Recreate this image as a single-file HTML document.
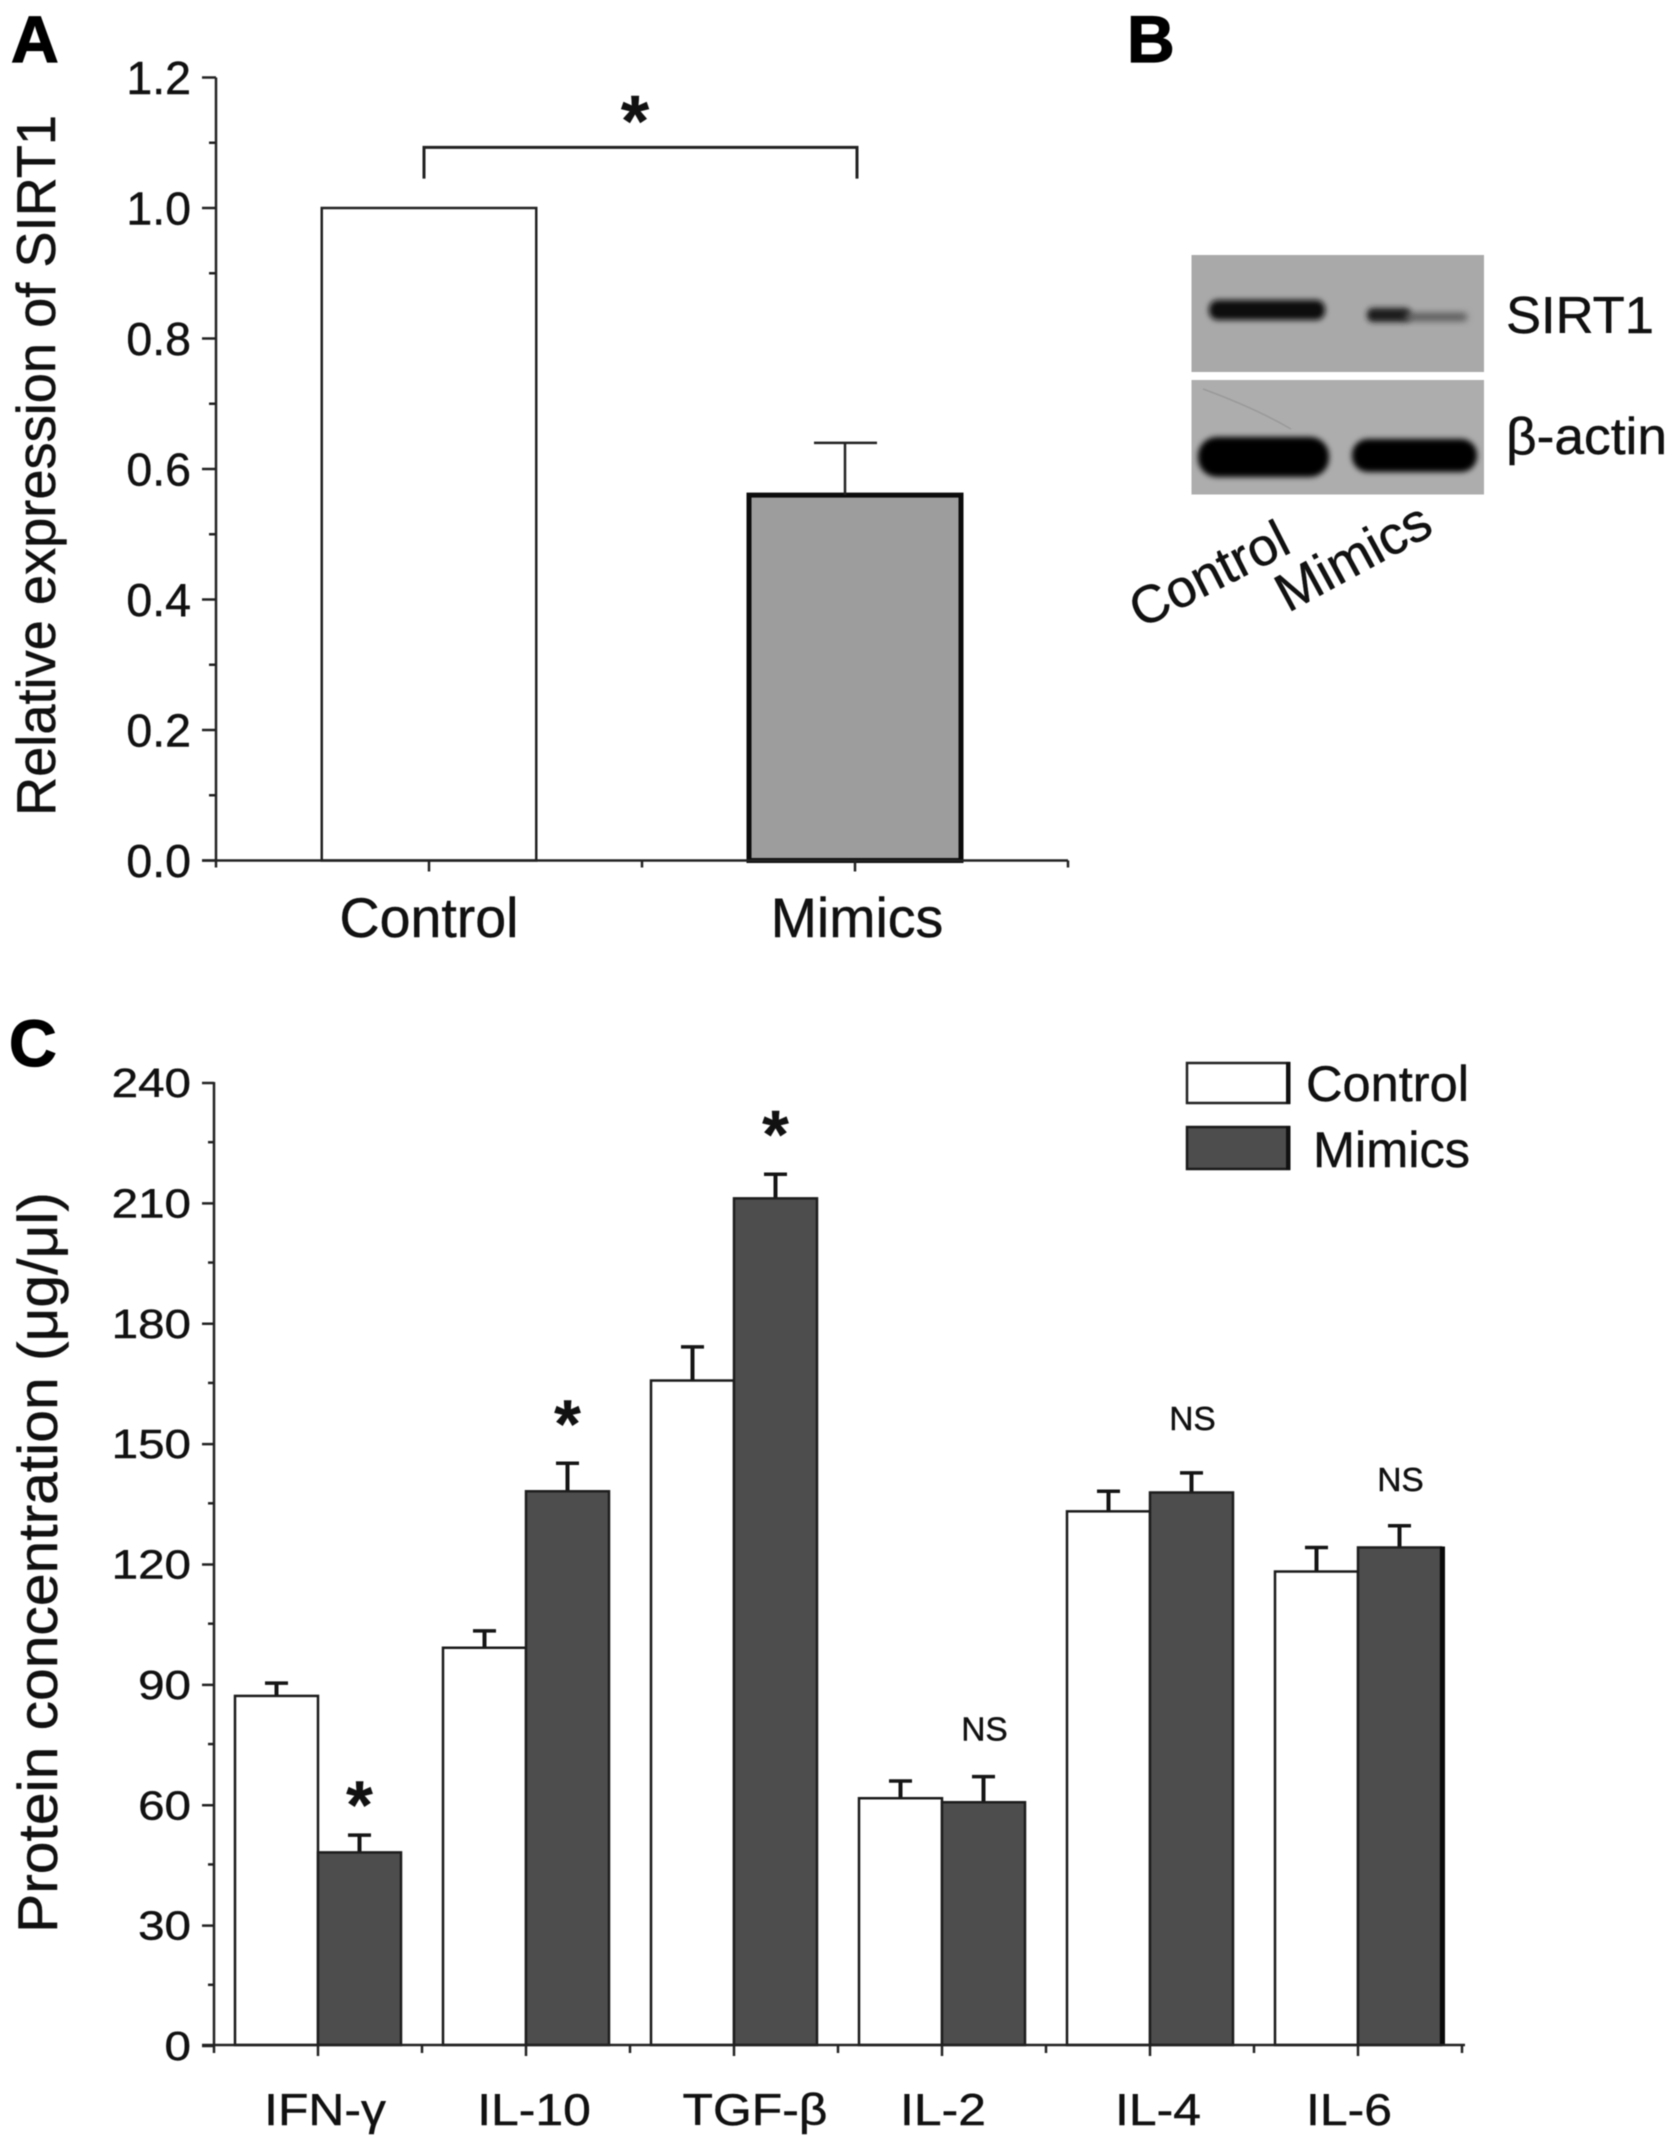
<!DOCTYPE html>
<html lang="en">
<head>
<meta charset="utf-8">
<title>SIRT1 expression and protein concentration figure</title>
<style>
html,body{margin:0;padding:0;background:#fff;}
#figure{display:block;filter:blur(0.55px);}
text{font-family:"Liberation Sans",Arial,sans-serif;fill:#111;stroke:#111;stroke-width:0.45px;}
.panel-letter{font-weight:bold;font-size:66px;stroke:#000;stroke-width:1.2px;fill:#000;}
</style>
</head>
<body>
<svg id="figure" xmlns="http://www.w3.org/2000/svg" width="1677" height="2148" viewBox="0 0 1677 2148">
  <defs>
    <filter id="blurBand" x="-30%" y="-60%" width="160%" height="220%"><feGaussianBlur stdDeviation="3"/></filter>
    <filter id="blurFaint" x="-30%" y="-80%" width="160%" height="260%"><feGaussianBlur stdDeviation="3.4"/></filter>
  </defs>
  <rect x="0" y="0" width="1677" height="2148" fill="#fff"/>

  <text class="panel-letter" x="11" y="62">A</text>
  <text class="panel-letter" x="1127" y="62">B</text>
  <text class="panel-letter" x="9" y="1066">C</text>

  <g id="panelA"></g>

  <g id="panelB">
    <rect x="1191.5" y="255" width="292.5" height="117" fill="#a9a9a9"/>
    <rect x="1209" y="300" width="116" height="20" rx="9" fill="#0c0c0c" filter="url(#blurBand)"/>
    <rect x="1367" y="308" width="44" height="14" rx="6" fill="#1c1c1c" filter="url(#blurBand)"/>
    <rect x="1405" y="313" width="62" height="8" rx="3" fill="#5a5a5a" filter="url(#blurFaint)"/>
    <rect x="1191.5" y="380" width="292.5" height="114.5" fill="#adadad"/>
    <path d="M1203 389 Q1255 408 1291 429" fill="none" stroke="#9a9a9a" stroke-width="1.5"/>
    <rect x="1198" y="437" width="131" height="40" rx="19" fill="#050505" filter="url(#blurBand)"/>
    <rect x="1352" y="439" width="125" height="33" rx="16" fill="#050505" filter="url(#blurBand)"/>
    <text x="1506" y="333" font-size="52" textLength="148" lengthAdjust="spacingAndGlyphs">SIRT1</text>
    <text x="1506" y="454" font-size="52" textLength="161" lengthAdjust="spacingAndGlyphs">β-actin</text>
    <text transform="translate(1141 629) rotate(-27)" font-size="53">Control</text>
    <text transform="translate(1288 613) rotate(-28.5)" font-size="54">Mimics</text>
  </g>

  <g id="panelC"></g>

  <g id="legendC">
    <rect x="1187" y="1063" width="102" height="40" fill="#fff" stroke="#222" stroke-width="2.5"/>
    <rect x="1286" y="1062" width="4.5" height="42" fill="#111"/>
    <text x="1306" y="1101" font-size="50" textLength="163" lengthAdjust="spacingAndGlyphs">Control</text>
    <rect x="1187" y="1127" width="102" height="42" fill="#4d4d4d" stroke="#1a1a1a" stroke-width="2.5"/>
    <rect x="1286" y="1126" width="4.5" height="44" fill="#111"/>
    <text x="1313" y="1167" font-size="50" textLength="157" lengthAdjust="spacingAndGlyphs">Mimics</text>
  </g>
</svg>

<script>
/* ---------- Panel A data ---------- */
const aCategories = ['Control', 'Mimics'];
const aValues = [1.0, 0.56];
const aErrorTops = [null, 0.64];
const aTickLabels = ['0.0', '0.2', '0.4', '0.6', '0.8', '1.0', '1.2'];
const aYAxisTitle = 'Relative expression of SIRT1';

/* ---------- Panel C data ---------- */
const cCategories = ['IFN-γ', 'IL-10', 'TGF-β', 'IL-2', 'IL-4', 'IL-6'];
const cControl = [87, 99, 165.6, 61.5, 133, 118];
const cMimics = [48, 138, 211, 60.5, 137.7, 124];
const cControlErrorTops = [90.2, 103.2, 174, 65.8, 138, 124];
const cMimicsErrorTops = [52.3, 145, 217, 66.9, 142.6, 129.4];
const cSignificance = ['*', '*', '*', 'NS', 'NS', 'NS'];
const cTickLabels = ['0', '30', '60', '90', '120', '150', '180', '210', '240'];
const cYAxisTitle = 'Protein concentration (μg/μl)';

const NS = 'http://www.w3.org/2000/svg';
function make(tag, parent, attrs, text) {
  const el = document.createElementNS(NS, tag);
  for (const k in attrs) el.setAttribute(k, attrs[k]);
  if (text !== undefined) el.textContent = text;
  parent.appendChild(el);
  return el;
}
const ink = '#222';

/* ---------- Panel A ---------- */
const gA = document.getElementById('panelA');
const aLeft = 216, aBase = 860.5, aStep = 426, aBarW = 215, aPxPerUnit = 652.5;
const aY = v => aBase - v * aPxPerUnit;
const aX = i => aLeft + aStep * (i + 0.5);
const aYMax = parseFloat(aTickLabels[aTickLabels.length - 1]);

aCategories.forEach((cat, i) => {
  const isMimic = i === 1;
  const sw = isMimic ? 5 : 2.5;
  const bar = make('rect', gA, {
    x: aX(i) - aBarW / 2 + sw / 2 - 1, y: aY(aValues[i]),
    width: aBarW - sw + 2, height: aBase - aY(aValues[i]),
    fill: isMimic ? '#9d9d9d' : '#fff', stroke: isMimic ? '#0c0c0c' : ink, 'stroke-width': sw
  });
  
  

  if (aErrorTops[i] !== null) {
    const stemX = aX(i) - 10;
    const stem = make('line', gA, { x1: stemX, x2: stemX, y1: aY(aValues[i]), y2: aY(aErrorTops[i]), stroke: ink, 'stroke-width': 2.5 });
    
    
    const cap = make('line', gA, { x1: stemX - 31, x2: stemX + 32, y1: aY(aErrorTops[i]), y2: aY(aErrorTops[i]), stroke: ink, 'stroke-width': 2.5 });
    
    
  }

  const lbl = make('text', gA, { x: aX(i) + (isMimic ? 2 : 0), y: 937, 'font-size': 55.5, 'text-anchor': 'middle' }, cat);
  
  
});

const aYAxis = make('line', gA, { x1: aLeft, x2: aLeft, y1: aY(aYMax), y2: aBase + 1, stroke: ink, 'stroke-width': 2.5 });


const aXAxis = make('line', gA, { x1: aLeft - 14, x2: aLeft + aStep * aCategories.length, y1: aBase, y2: aBase, stroke: ink, 'stroke-width': 2.5 });



aTickLabels.forEach((label, i) => {
  const v = parseFloat(label);
  const tick = make('line', gA, { x1: aLeft - 14, x2: aLeft, y1: aY(v), y2: aY(v), stroke: ink, 'stroke-width': 2.5 });
  
  
  const t = make('text', gA, { x: 191, y: aY(v) + 16.5, 'font-size': 46.5, 'text-anchor': 'end' }, label);
  
  
  if (i < aTickLabels.length - 1) {
    const mv = (v + parseFloat(aTickLabels[i + 1])) / 2;
    const minor = make('line', gA, { x1: aLeft - 7, x2: aLeft, y1: aY(mv), y2: aY(mv), stroke: ink, 'stroke-width': 2.5 });
    
    
  }
});

for (let i = 0; i <= aCategories.length * 2; i++) {
  const x = aLeft + i * aStep / 2;
  const major = i % 2 === 1;
  const tick = make('line', gA, { x1: x, x2: x, y1: aBase, y2: aBase + (major ? 11 : 7), stroke: ink, 'stroke-width': 2.5 });
  
  
}

const aTitle = make('text', gA, { transform: 'translate(55 816) rotate(-90)', 'font-size': 55, textLength: 701, lengthAdjust: 'spacingAndGlyphs' }, aYAxisTitle);



const bracketTop = aY(1.093);
const bracketBottom = aY(1.045);
const bracket = make('path', gA, {
  d: 'M' + (aX(0) - 5) + ' ' + bracketBottom + ' V' + bracketTop + ' H' + (aX(1) + 2) + ' V' + bracketBottom,
  fill: 'none', stroke: '#222', 'stroke-width': 3
});


const aStar = make('text', gA, { x: 635, y: 146, 'font-size': 72, 'font-weight': 'bold', 'text-anchor': 'middle' }, '*');



/* ---------- Panel C ---------- */
const gC = document.getElementById('panelC');
const cLeft = 214, cBase = 2045, cStep = 208, cBarW = 83, cPxPerUnit = 4.0125;
const cY = v => cBase - v * cPxPerUnit;
const cX = i => cLeft + cStep * (i + 0.5);
const cYMax = parseFloat(cTickLabels[cTickLabels.length - 1]);
const labelNudge = [7, 8, 21, 1, 8, -9];
const noteNudge = [4, -5, -6, 0, -7, 1];

function drawBar(i, cat, value, errTop, isMimic) {
  const x = isMimic ? cX(i) : cX(i) - cBarW;
  const cx = x + cBarW / 2;
  const stem = make('line', gC, { x1: cx, x2: cx, y1: cY(value) + 3, y2: cY(errTop), stroke: '#151515', 'stroke-width': 4 });
  
  
  const cap = make('line', gC, { x1: cx - 11.5, x2: cx + 11.5, y1: cY(errTop), y2: cY(errTop), stroke: '#151515', 'stroke-width': 3.5 });
  
  
  const bar = make('rect', gC, {
    x: x, y: cY(value), width: cBarW, height: cBase - cY(value),
    fill: isMimic ? '#4d4d4d' : '#fff', stroke: isMimic ? '#1d1d1d' : '#1a1a1a', 'stroke-width': 2.5
  });
  
  
}

cCategories.forEach((cat, i) => {
  drawBar(i, cat, cControl[i], cControlErrorTops[i], false);
});
cCategories.forEach((cat, i) => {
  drawBar(i, cat, cMimics[i], cMimicsErrorTops[i], true);

  if (i === cCategories.length - 1) {
    const edge = make('line', gC, { x1: cX(i) + cBarW + 1.5, x2: cX(i) + cBarW + 1.5, y1: cY(cMimics[i]) - 1, y2: cBase, stroke: '#0a0a0a', 'stroke-width': 5 });
    
    
  }

  const lx = cX(i) + labelNudge[i];
  const lbl = make('text', gC, { transform: 'translate(' + lx + ' 2125) scale(1.12 1)', 'font-size': 44.5, 'text-anchor': 'middle' }, cat);
  
  

  const sx = cX(i) + cBarW / 2;
  const sig = cSignificance[i];
  if (sig === '*') {
    const star = make('text', gC, { x: sx, y: cY(cMimicsErrorTops[i]) - 11 + noteNudge[i], 'font-size': 68, 'font-weight': 'bold', 'text-anchor': 'middle' }, sig);
    
    
  } else {
    const ns = make('text', gC, { x: sx + 1, y: cY(cMimicsErrorTops[i]) - 36 + noteNudge[i], 'font-size': 33.5, 'text-anchor': 'middle' }, sig);
    
    
  }
});

const cYAxis = make('line', gC, { x1: cLeft, x2: cLeft, y1: cY(cYMax), y2: cBase + 1, stroke: ink, 'stroke-width': 2.5 });


const cXAxis = make('line', gC, { x1: cLeft - 12, x2: cLeft + cStep * cCategories.length + 3, y1: cBase, y2: cBase, stroke: ink, 'stroke-width': 2.5 });



cTickLabels.forEach((label, i) => {
  const v = parseFloat(label);
  const tick = make('line', gC, { x1: cLeft - 12, x2: cLeft, y1: cY(v) + 1, y2: cY(v) + 1, stroke: ink, 'stroke-width': 2.5 });
  
  
  const t = make('text', gC, { transform: 'translate(191 ' + (cY(v) + 15) + ') scale(1.16 1)', 'font-size': 41, 'text-anchor': 'end' }, label);
  
  
  if (i < cTickLabels.length - 1) {
    const mv = (v + parseFloat(cTickLabels[i + 1])) / 2;
    const minor = make('line', gC, { x1: cLeft - 6, x2: cLeft, y1: cY(mv), y2: cY(mv), stroke: ink, 'stroke-width': 2.5 });
    
    
  }
});

for (let i = 0; i <= cCategories.length * 2; i++) {
  const x = cLeft + i * cStep / 2;
  const major = i % 2 === 1;
  const tick = make('line', gC, { x1: x, x2: x, y1: cBase, y2: cBase + (major ? 11 : 8), stroke: ink, 'stroke-width': 2.5 });
  
  
}

const cTitle = make('text', gC, { transform: 'translate(57 1933) rotate(-90)', 'font-size': 56, textLength: 741, lengthAdjust: 'spacingAndGlyphs' }, cYAxisTitle);


</script>
</body>
</html>
